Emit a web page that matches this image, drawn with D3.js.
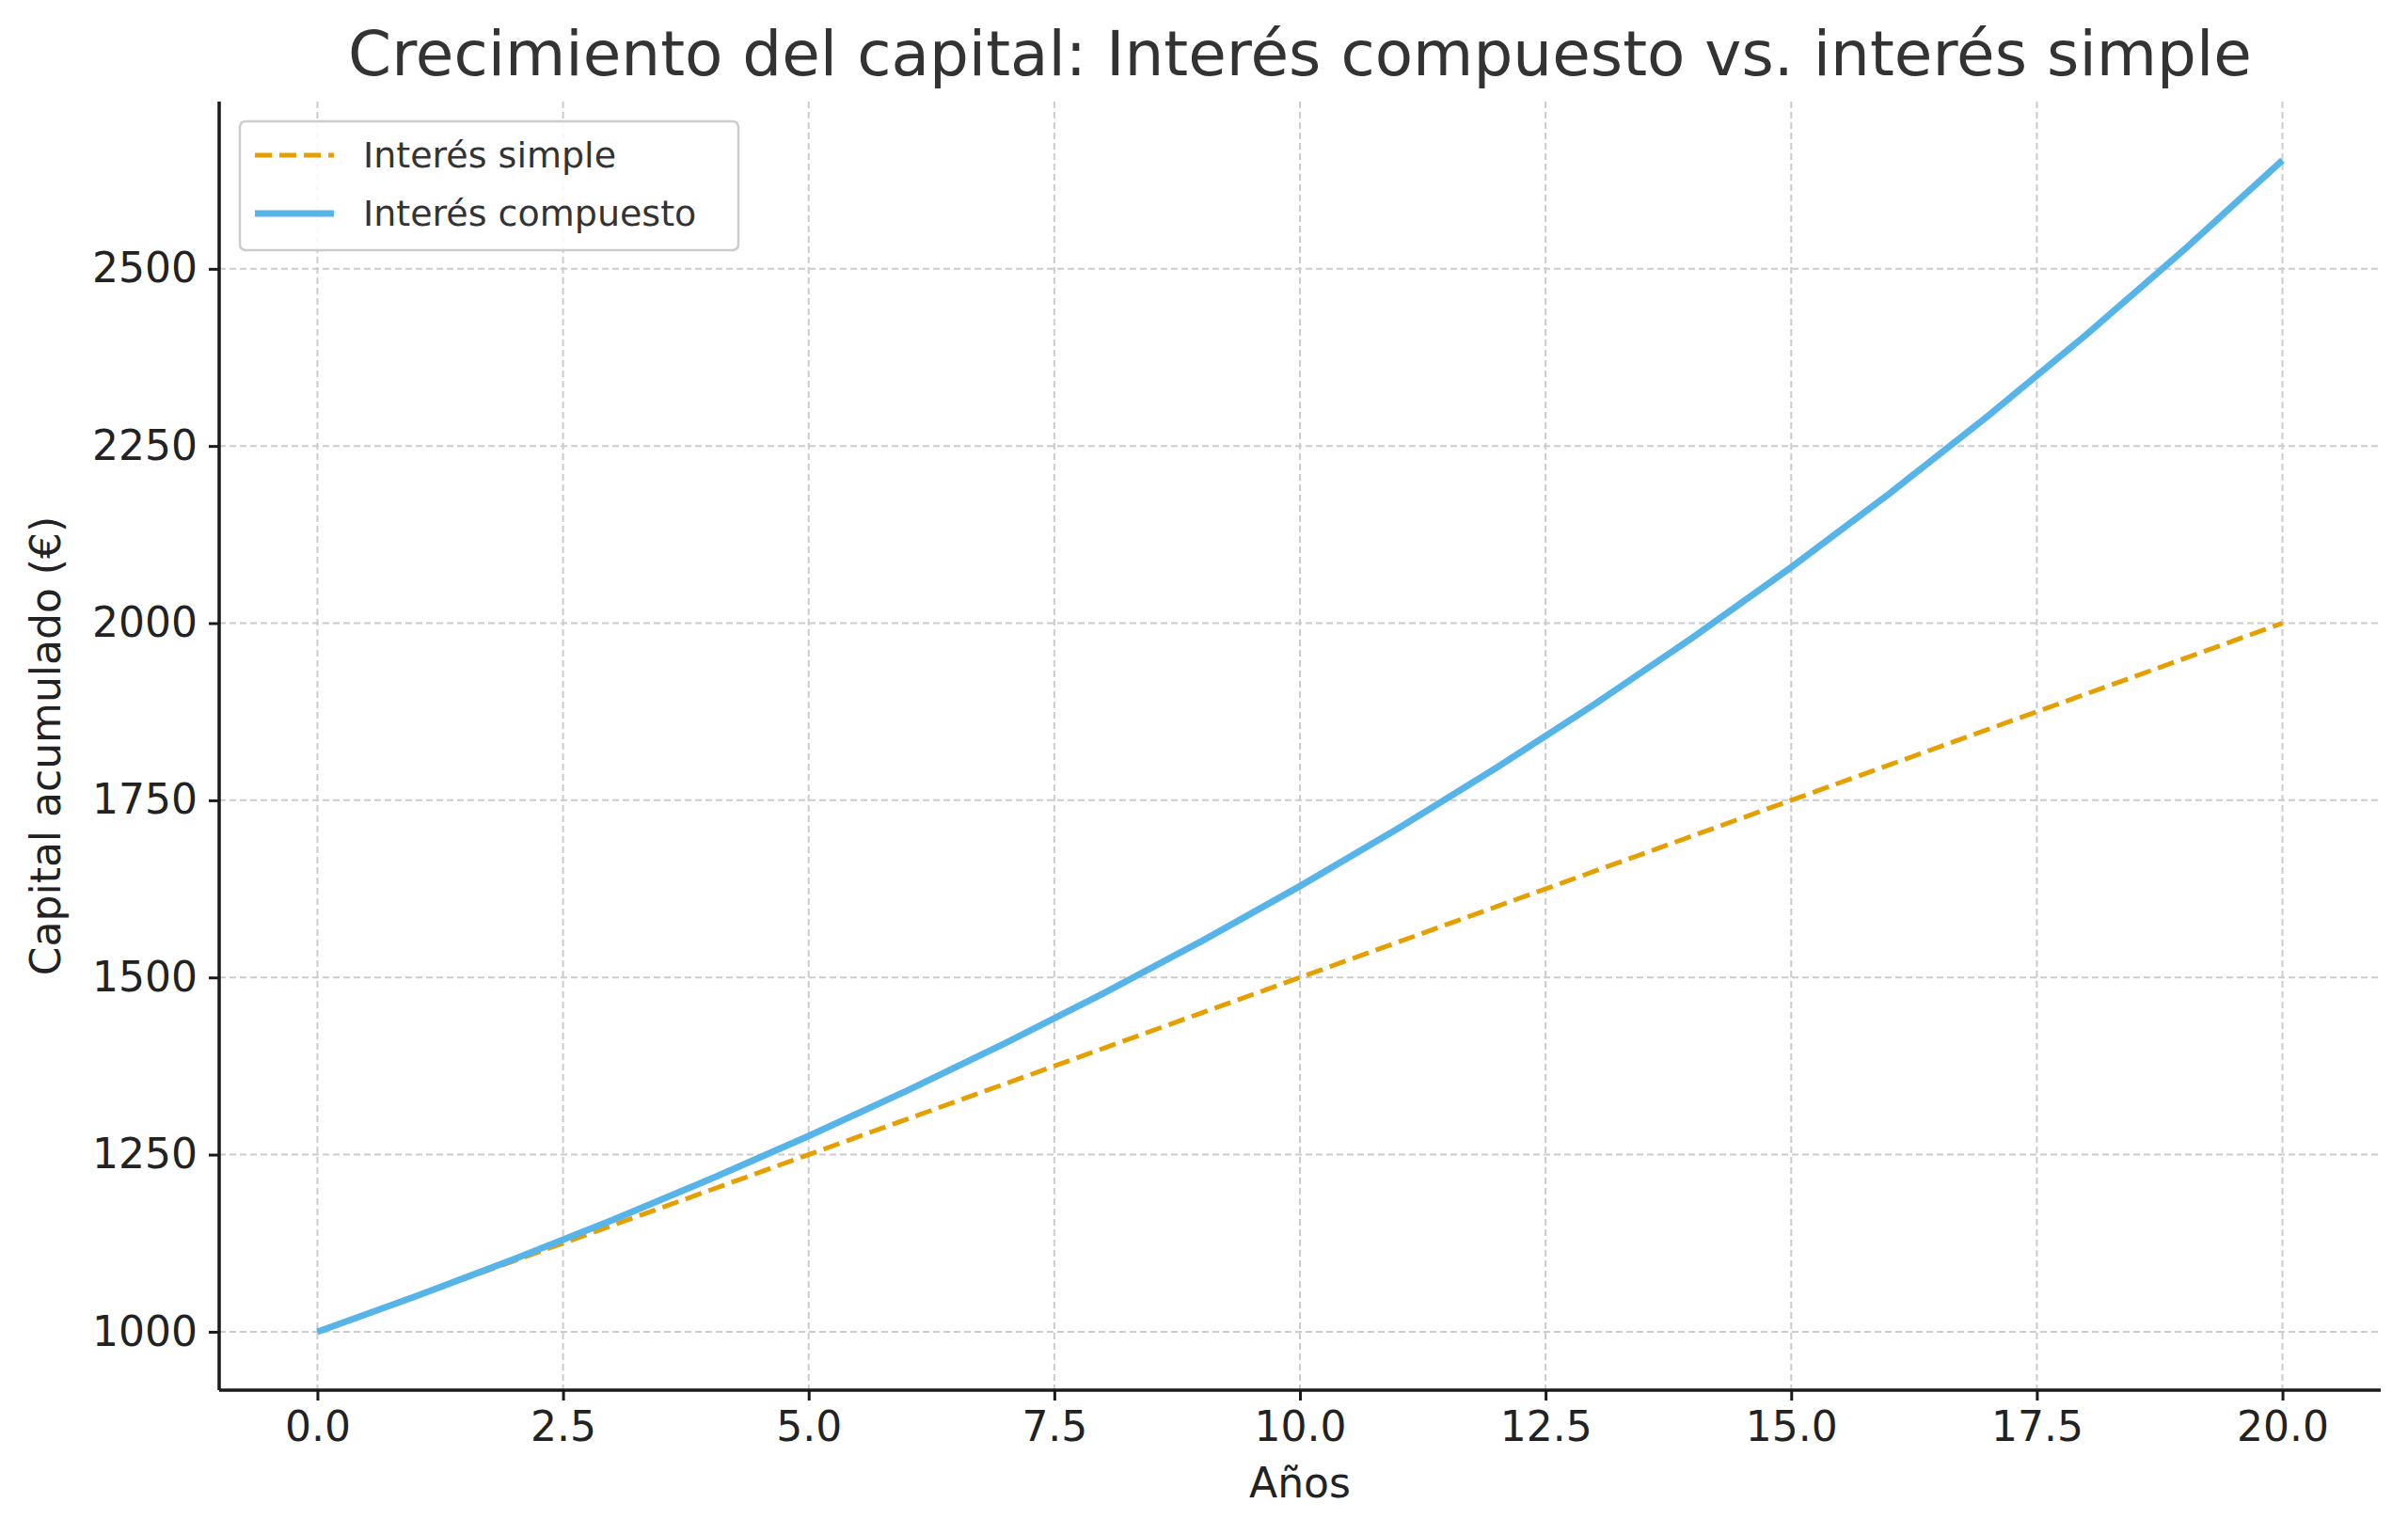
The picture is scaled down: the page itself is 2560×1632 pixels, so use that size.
<!DOCTYPE html>
<html><head><meta charset="utf-8">
<script src="https://cdn.jsdelivr.net/npm/d3@7"></script>
<style>body{margin:0;background:#fff;font-family:"DejaVu Sans",sans-serif;}</style>
</head><body>
<svg id="chart" width="2560" height="1632"></svg>
<script>
// data
var years = [0,1,2,3,4,5,6,7,8,9,10,11,12,13,14,15,16,17,18,19,20];
var simple = [1000,1050,1100,1150,1200,1250,1300,1350,1400,1450,1500,1550,1600,1650,1700,1750,1800,1850,1900,1950,2000];
var compound = [1000,1050,1102.5,1157.6,1215.5,1276.3,1340.1,1407.1,1477.5,1551.3,1628.9,1710.3,1795.9,1885.6,1979.9,2078.9,2182.9,2292.0,2406.6,2527.0,2653.3];
var xTicks = [0,2.5,5,7.5,10,12.5,15,17.5,20];
var yTicks = [1000,1250,1500,1750,2000,2250,2500];

var pLeft = 233, pRight = 2531, pTop = 108, pBottom = 1478;
var svg = d3.select("#chart");

var x = d3.scaleLinear().domain([-1, 21]).range([pLeft, pRight]);
var y = d3.scaleLinear().domain([917.6, 2736]).range([pBottom, pTop]);

// grid
svg.append("g").selectAll("line").data(xTicks).enter().append("line")
  .attr("x1", d => x(d)).attr("x2", d => x(d)).attr("y1", pTop).attr("y2", pBottom)
  .style("stroke", "#cccccc").style("stroke-width", 2).style("stroke-dasharray", "7,4");
svg.append("g").selectAll("line").data(yTicks).enter().append("line")
  .attr("x1", pLeft).attr("x2", pRight).attr("y1", d => y(d)).attr("y2", d => y(d))
  .style("stroke", "#cccccc").style("stroke-width", 2).style("stroke-dasharray", "7,4");

// axes
var xAxis = svg.append("g").attr("transform", "translate(0," + pBottom + ")")
  .call(d3.axisBottom(x).tickValues(xTicks).tickFormat(d3.format(".1f")).tickSize(11).tickPadding(12));
var yAxis = svg.append("g").attr("transform", "translate(" + pLeft + ",0)")
  .call(d3.axisLeft(y).tickValues(yTicks).tickFormat(d3.format("d")).tickSize(11).tickPadding(12));
[xAxis, yAxis].forEach(function(a) {
  a.select(".domain").style("stroke", "#1a1a1a").style("stroke-width", 3.5);
  a.selectAll(".tick line").style("stroke", "#1a1a1a").style("stroke-width", 3);
  a.selectAll("text").style("font-family", "DejaVu Sans").style("font-size", "44px").style("fill", "#222");
});
xAxis.select(".domain").attr("d", "M" + pLeft + ",0H" + pRight);
yAxis.select(".domain").attr("d", "M0," + pTop + "V" + pBottom);

// lines
var line = d3.line().x((d, i) => x(years[i])).y(d => y(d));
svg.append("path").datum(simple).attr("d", line)
  .style("fill", "none").style("stroke", "#E69F00").style("stroke-width", 5).style("stroke-dasharray", "18,8");
svg.append("path").datum(compound).attr("d", line)
  .style("fill", "none").style("stroke", "#56B4E9").style("stroke-width", 7);

// labels
svg.append("text").attr("x", (pLeft + pRight) / 2).attr("y", 80).attr("text-anchor", "middle")
  .style("font-size", "66px").style("fill", "#333").text("Crecimiento del capital: Interés compuesto vs. interés simple");
svg.append("text").attr("x", x(10)).attr("y", 1592).attr("text-anchor", "middle")
  .style("font-size", "44px").style("fill", "#222").text("Años");
svg.append("text").attr("transform", "translate(64," + ((pTop + pBottom) / 2) + ") rotate(-90)")
  .attr("text-anchor", "middle").style("font-size", "44px").style("fill", "#222").text("Capital acumulado (€)");

// legend
var lg = svg.append("g");
lg.append("rect").attr("x", 255).attr("y", 129).attr("width", 530).attr("height", 137).attr("rx", 6)
  .style("fill", "#fff").style("fill-opacity", 0.85).style("stroke", "#cccccc").style("stroke-width", 2.5);
var items = [["Interés simple", "#E69F00", "18,8", 5], ["Interés compuesto", "#56B4E9", null, 7]];
items.forEach(function(it, i) {
  var yy = 165 + i * 62;
  lg.append("line").attr("x1", 271).attr("x2", 355).attr("y1", yy).attr("y2", yy)
    .style("stroke", it[1]).style("stroke-width", it[3]).style("stroke-dasharray", it[2]);
  lg.append("text").attr("x", 386).attr("y", yy + 13).style("font-size", "38px").style("fill", "#333").text(it[0]);
});
</script>
</body></html>
